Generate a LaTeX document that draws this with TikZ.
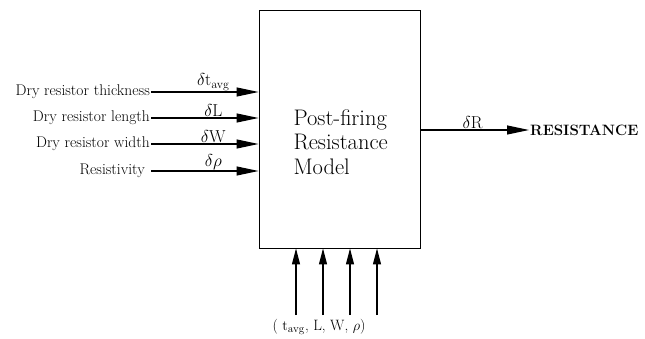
\documentclass[tikz,border=0pt]{standalone}
\usepackage{amsmath}
\usetikzlibrary{arrows.meta}

\begin{document}
\begin{tikzpicture}[x=1pt, y=-1pt,
    bigtip/.style={-{Triangle[length=22pt, width=9pt]}, line width=1.1pt},
    uptip/.style={-{Triangle[length=16pt, width=8pt]}, line width=1.1pt},
    intext/.style={anchor=east, inner sep=1pt, font=\fontsize{15.5}{18}\selectfont},
    dlabel/.style={above, inner sep=1pt, font=\fontsize{17}{19}\selectfont}]
    \useasboundingbox (0,0) rectangle (645,339);

    \node[rectangle, draw, line width=0.9pt, minimum width=161pt, minimum height=238pt] (model) at (339.5,129) {};
    \node[anchor=west, align=left, font=\fontsize{22.5}{24.5}\selectfont] (modeltext) at (290,142) {Post-firing\\Resistance\\Model};

    \node[intext] (thick) at (151,92) {Dry resistor thickness};
    \node[intext] (length) at (151,118) {Dry resistor length};
    \node[intext] (width) at (151,144) {Dry resistor width};
    \node[intext] (resist) at (146,171) {Resistivity};

    \draw[bigtip] (thick.east) -- (thick -| model.west) node[dlabel, pos=0.58] {$\delta \mathrm{t}_{\mathrm{avg}}$};
    \draw[bigtip] (length.east) -- (length -| model.west) node[dlabel, pos=0.58] {$\delta \mathrm{L}$};
    \draw[bigtip] (width.east) -- (width -| model.west) node[dlabel, pos=0.58] {$\delta \mathrm{W}$};
    \draw[bigtip] ([xshift=5pt]resist.east) -- (resist -| model.west) node[dlabel, pos=0.58] {$\delta \rho$};

    \node[anchor=west, inner sep=1pt, font=\bfseries\fontsize{15}{17}\selectfont] (output) at (529,130) {RESISTANCE};
    \draw[bigtip] (model.east |- output) -- (output.west) node[dlabel, pos=0.48] {$\delta \mathrm{R}$};

    \node[font=\fontsize{15}{17}\selectfont] (params) at (319,327) {( $\mathrm{t}_{\mathrm{avg}}$, L, W, $\rho$)};
    \foreach \xp [count=\i] in {296,323,350,377} {
        \coordinate (in\i) at (\xp,315);
        \draw[uptip] (in\i) -- (in\i |- model.south);
    }
\end{tikzpicture}
\end{document}
